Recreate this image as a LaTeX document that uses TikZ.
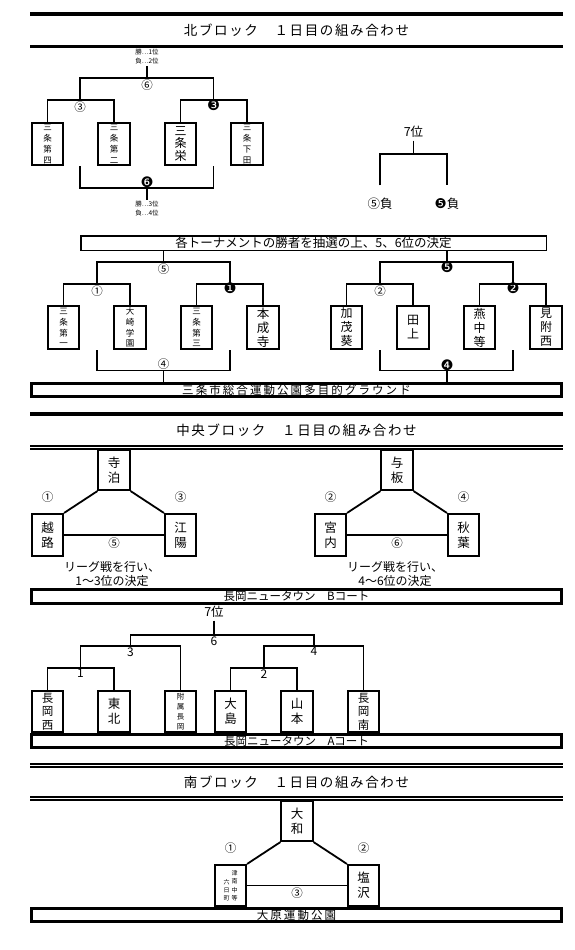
\documentclass[tikz,border=0pt]{standalone}
\usepackage{fontspec}
\setmainfont{Noto Sans CJK JP}
\newfontfamily\jpwide[LetterSpace=12]{Noto Sans CJK JP}
\newfontfamily\jpwider[LetterSpace=18]{Noto Sans CJK JP}
\newfontfamily\dejavu{DejaVu Sans}
\usepackage{tikz}
\usetikzlibrary{calc,positioning}
\newcommand{\fsz}[2]{\fontsize{#1}{#2}\selectfont}
\tikzstyle{team}=[draw, line width=1.6pt, minimum width=31.5pt, minimum height=42.5pt, inner sep=0pt, align=center, font=\fsz{12.5}{15}]
\tikzstyle{teamsm}=[team, font=\fsz{8.5}{10.8}]
\tikzstyle{teamxs}=[team, font=\fsz{7.5}{10}]
\tikzstyle{num}=[inner sep=0.5pt, font=\fsz{11.5}{11.5}]
\tikzstyle{bnum}=[inner sep=0pt, font={\dejavu\fsz{14.5}{14.5}}]
\tikzstyle{digit}=[inner sep=0.5pt, font=\fsz{12}{12}]
\tikzstyle{note}=[inner sep=1pt, align=center, font=\fsz{6.5}{9}]
\tikzstyle{label7}=[inner sep=2pt, font=\fsz{12.5}{12.5}]
\tikzstyle{title}=[inner sep=0pt, font={\jpwide\fsz{13.5}{13.5}}]
\tikzstyle{lgtext}=[inner sep=0pt, align=center, font=\fsz{12}{13.5}]
\tikzstyle{venue}=[draw, line width=3pt, minimum width=530pt, minimum height=13.5pt, inner sep=0pt, text height=9.5pt, text depth=1pt, font=\fsz{11.5}{11.5}]
\tikzset{%
    widevenue/.style={venue, font={\jpwider\fsz{11.5}{11.5}}},
    lotbox/.style={draw, line width=1.5pt, minimum width=465.5pt, minimum height=14.5pt, inner sep=0pt, text height=10.3pt, text depth=1pt, font=\fsz{12.5}{12.5}},
    rulethick/.style={line width=3.8pt},
    ruledbl/.style={double, line width=1.3pt, double distance=1.7pt},
  }

\begin{document}
\begin{tikzpicture}[x=1pt, y=-1pt, node distance=66.5pt, line width=1.8pt]
    \useasboundingbox (0,0) rectangle (574,950);
    % north block
    \draw [rulethick] (30,14) -- (563,14);
    \draw [rulethick] (30,46.5) -- (563,46.5);
    \node (tnorth) [title] at (296.5,30) {北ブロック　１日目の組み合わせ};
    %
    \node (sd4) [teamsm] at (47.5,144) {三\\条\\第\\四};
    \node (sd2) [teamsm, right of=sd4] {三\\条\\第\\二};
    \node (sak) [team, font=\fsz{12}{12.5}, right of=sd2] {三\\条\\栄};
    \node (sst) [teamsm, right of=sak] {三\\条\\下\\田};
    \coordinate (g3) at (80,100);
    \coordinate (gb3) at (213.5,100);
    \coordinate (g6) at (147,78);
    \draw (sd4.north) |- (g3) -| (sd2.north);
    \draw (sak.north) |- (gb3) -| (sst.north);
    \draw (g3) |- (g6) -| (gb3);
    \node (w12) [note] at (147,57) {勝…1位\\負…2位};
    \draw (w12.south) -- (g6);
    \node (n3) [num, below=0pt of g3] {③};
    \node (n6) [num, below=0pt of g6] {⑥};
    \node (nb3) [bnum, yshift=-5pt] at (gb3) {❸};
    \coordinate (l3) at (80,166);
    \coordinate (lb3) at (213.5,166);
    \coordinate (gb6) at (147,188);
    \draw (l3) |- (gb6) -| (lb3);
    \node (nb6) [bnum, yshift=5.5pt] at (gb6) {❻};
    \node (w34) [note] at (147,209) {勝…3位\\負…4位};
    \draw (gb6) -- (w34.north);
    %
    \node (p7) [label7] at (413.5,132) {7位};
    \coordinate (g7) at (413.5,154);
    \node (l5) [label7] at (380,204) {⑤負};
    \node (lb5) [label7] at (447,204) {{\dejavu\fsz{13.5}{13.5}❺}負};
    \draw (p7.south) -- (g7);
    \draw [shorten <=10pt, shorten >=10pt] (l5.north) |- (g7) -| (lb5.north);
    %
    \node (lot) [lotbox] at (313.5,243) {各トーナメントの勝者を抽選の上、5、6位の決定};
    \node (sd1) [teamsm, minimum height=43.5pt] at (63.5,327.5) {三\\条\\第\\一};
    \node (osk) [teamsm, minimum height=43.5pt, font=\fsz{8.5}{10.8}, right of=sd1] {大\\崎\\学\\園};
    \node (sd3) [teamsm, minimum height=43.5pt, right of=osk] {三\\条\\第\\三};
    \node (hjj) [team, minimum height=43.5pt, font=\fsz{12.5}{14}, right of=sd3] {本\\成\\寺};
    \coordinate (g5) at (163.5,262);
    \coordinate (g1) at (97,284);
    \coordinate (gb1) at (230,284);
    \draw (sd1.north) |- (g1) -| (osk.north);
    \draw (sd3.north) |- (gb1) -| (hjj.north);
    \draw (g1) |- (g5) -| (gb1);
    \draw (g5 |- lot.south) -- (g5);
    \node (n5) [num, below=0pt of g5] {⑤};
    \node (n1) [num, below=0pt of g1] {①};
    \node (nb1) [bnum, yshift=-4.5pt] at (gb1) {❶};
    \coordinate (l1) at (97,350);
    \coordinate (lb1) at (230,350);
    \coordinate (g4) at (163.5,370.5);
    \draw (l1) |- (g4) -| (lb1);
    \node (n4) [num, above=0pt of g4] {④};
    %
    \node (kam) [team, minimum height=43.5pt, font=\fsz{12}{14}] at (346.5,327.5) {加\\茂\\葵};
    \node (tag) [team, minimum height=43.5pt, font=\fsz{12}{14}, right of=kam] {田\\上};
    \node (tsu) [team, minimum height=43.5pt, font=\fsz{12}{14}, right of=tag] {燕\\中\\等};
    \node (mit) [team, minimum height=43.5pt, font=\fsz{12}{14}, right of=tsu] {見\\附\\西};
    \coordinate (gb5) at (447,262);
    \coordinate (g2) at (380,284);
    \coordinate (gb2) at (513,284);
    \draw (kam.north) |- (g2) -| (tag.north);
    \draw (tsu.north) |- (gb2) -| (mit.north);
    \draw (g2) |- (gb5) -| (gb2);
    \draw (gb5 |- lot.south) -- (gb5);
    \node (nb5) [bnum, yshift=-5pt] at (gb5) {❺};
    \node (n2) [num, below=0pt of g2] {②};
    \node (nb2) [bnum, yshift=-4.5pt] at (gb2) {❷};
    \coordinate (l2) at (380,350);
    \coordinate (lb2) at (513,350);
    \coordinate (gb4) at (447,370.5);
    \draw (l2) |- (gb4) -| (lb2);
    \node (nb4) [bnum, yshift=5pt] at (gb4) {❹};
    %
    \node (gr) [widevenue] at (296.5,390) {三条市総合運動公園多目的グラウンド};
    \draw (g4) -- (g4 |- gr.north);
    \draw (gb4) -- (gb4 |- gr.north);

    % central block
    \draw [rulethick] (30,414) -- (563,414);
    \node (tcen) [title] at (296.5,430) {中央ブロック　１日目の組み合わせ};
    \draw [ruledbl] (30,447.5) -- (563,447.5);
    %
    \node (tera) [team, minimum height=40.5pt] at (114,470) {寺\\泊};
    \node (koshi) [team] at (47.5,535) {越\\路};
    \node (koyo) [team] at (180.5,535) {江\\陽};
    \draw (tera.south west) -- (koshi.north east);
    \draw (tera.south east) -- (koyo.north west);
    \draw (koshi) -- (koyo) node (c5) [num, midway, below=1pt] {⑤};
    \node (c1) [num, above=9pt of koshi] {①};
    \node (c3) [num, above=9pt of koyo] {③};
    \node (lg1) [lgtext] at (112,574) {リーグ戦を行い、\\1～3位の決定};
    %
    \node (yoi) [team, minimum height=40.5pt] at (397,470) {与\\板};
    \node (miy) [team] at (330.5,535) {宮\\内};
    \node (aki) [team] at (463.5,535) {秋\\葉};
    \draw (yoi.south west) -- (miy.north east);
    \draw (yoi.south east) -- (aki.north west);
    \draw (miy) -- (aki) node (c6) [num, midway, below=1pt] {⑥};
    \node (c2) [num, above=9pt of miy] {②};
    \node (c4) [num, above=9pt of aki] {④};
    \node (lg2) [lgtext] at (395,574) {リーグ戦を行い、\\4～6位の決定};
    %
    \node (bc) [venue, minimum height=14pt] at (296.5,596.5) {長岡ニュータウン　Bコート};
    %
    \node (p7n) [label7] at (214,612) {7位};
    \node (nnishi) [team, minimum height=41.5pt, font=\fsz{11.5}{13.5}] at (47.5,711.5) {長\\岡\\西};
    \node (ntohoku) [team, minimum height=41.5pt, right of=nnishi] {東\\北};
    \node (nfuzoku) [teamxs, minimum height=41.5pt, right of=ntohoku] {附\\属\\長\\岡};
    \node (noshima) [team, minimum height=41.5pt] at (230.5,711.5) {大\\島};
    \node (nyama) [team, minimum height=41.5pt, right of=noshima] {山\\本};
    \node (nminami) [team, minimum height=41.5pt, font=\fsz{11.5}{13.5}, right of=nyama] {長\\岡\\南};
    \coordinate (h1) at (80.5,668);
    \coordinate (h3) at (130.5,646);
    \coordinate (h6) at (214,635);
    \coordinate (h2) at (264,668);
    \coordinate (h4) at (314,646);
    \draw (nnishi.north) |- (h1) -| (ntohoku.north);
    \draw (h1) |- (h3) -| (nfuzoku.north);
    \draw (noshima.north) |- (h2) -| (nyama.north);
    \draw (h2) |- (h4) -| (nminami.north);
    \draw (h3) |- (h6) -| (h4);
    \draw (p7n.south) -- (h6);
    \node (d1) [digit, below=0pt of h1] {1};
    \node (d3) [digit, below=0pt of h3] {3};
    \node (d6) [digit, below=0pt of h6] {6};
    \node (d2) [digit, below=0pt of h2] {2};
    \node (d4) [digit, below=0pt of h4] {4};
    \node (ac) [venue] at (296.5,741) {長岡ニュータウン　Aコート};

    % south block
    \draw [ruledbl] (30,765.5) -- (563,765.5);
    \node (tsouth) [title] at (296.5,782) {南ブロック　１日目の組み合わせ};
    \draw [ruledbl] (30,798.5) -- (563,798.5);
    %
    \node (yamato) [team, minimum height=40.5pt] at (297,821) {大\\和};
    \node (tsunan) [team, minimum height=41.5pt, font=\fsz{6}{7}] at (230.5,885.5) {\shortstack{六\\日\\町}\hspace{2pt}\shortstack{津\\南\\中\\等}};
    \node (shio) [team, minimum height=41.5pt] at (363.5,885.5) {塩\\沢};
    \draw (yamato.south west) -- (tsunan.north east);
    \draw (yamato.south east) -- (shio.north west);
    \draw (tsunan) -- (shio) node (s3) [num, midway, below=1pt] {③};
    \node (s1) [num, above=9pt of tsunan] {①};
    \node (s2) [num, above=9pt of shio] {②};
    \node (oh) [widevenue] at (296.5,915) {大原運動公園};
\end{tikzpicture}
\end{document}
